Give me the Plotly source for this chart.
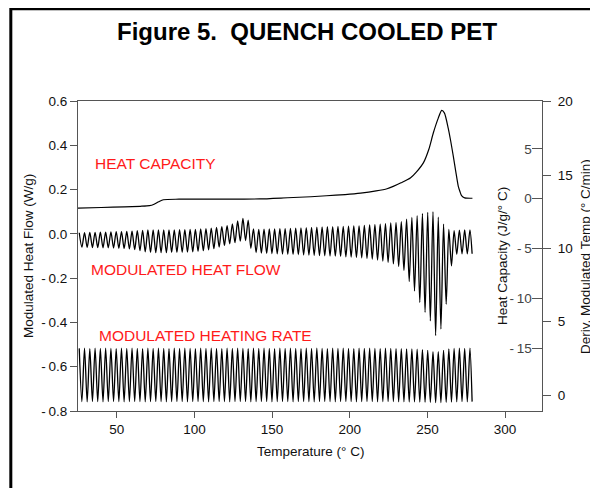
import plotly.graph_objects as go

# ---------------- data ----------------
# Heat capacity curve (J/g/°C axis)
HC_T = [25, 40, 55, 65, 71, 74, 77, 80, 90, 110, 130, 142, 160, 175, 185, 197, 207, 217,
        224, 228, 233, 239, 243, 247.4, 251, 253.8, 257, 259.2, 261, 263.4, 265, 266.7,
        268.3, 269.9, 271, 272, 274, 279]
HC_V = [-0.94, -0.88, -0.82, -0.76, -0.7, -0.55, -0.3, -0.1, -0.05, -0.03, -0.03, -0.02,
        0.1, 0.2, 0.3, 0.42, 0.56, 0.78, 1.0, 1.24, 1.6, 2.08, 2.7, 3.6, 5.0, 6.6, 8.1, 8.87,
        8.6, 7.1, 5.8, 4.25, 2.7, 1.24, 0.7, 0.3, 0.08, 0.05]

# Modulation cycles: temperatures of the crests and troughs
MOD_PEAK_T = [25.8, 29.2, 32.6, 36.0, 39.4, 42.8, 46.2, 49.6, 53.0, 56.4, 59.8, 63.2, 66.6,
              70.0, 73.4, 76.8, 80.2, 83.6, 87.0, 90.4, 93.8, 97.2, 100.6, 104.0, 107.4,
              110.8, 114.2, 117.6, 121.0, 124.4, 127.8, 131.2, 134.6, 138.0, 141.4, 144.8,
              148.2, 151.6, 155.0, 158.4, 161.8, 165.2, 168.6, 172.0, 175.4, 178.8, 182.2,
              185.6, 189.0, 192.4, 195.8, 199.2, 202.6, 206.0, 209.4, 212.8, 216.2, 219.6,
              223.0, 226.4, 229.8, 233.2, 236.6, 240.0, 243.4, 246.8, 250.2, 253.6, 257.0,
              260.4, 263.8, 267.2, 270.6, 274.0, 277.4]
MOD_TROUGH_T = [27.5, 30.9, 34.3, 37.7, 41.1, 44.5, 47.9, 51.3, 54.7, 58.1, 61.5, 64.9, 68.3,
                71.7, 75.1, 78.5, 81.9, 85.3, 88.7, 92.1, 95.5, 98.9, 102.3, 105.7, 109.1,
                112.5, 115.9, 119.3, 122.7, 126.1, 129.5, 132.9, 136.3, 139.7, 143.1, 146.5,
                149.9, 153.3, 156.7, 160.1, 163.5, 166.9, 170.3, 173.7, 177.1, 180.5, 183.9,
                187.3, 190.7, 194.1, 197.5, 200.9, 204.3, 207.7, 211.1, 214.5, 217.9, 221.3,
                224.7, 228.1, 231.5, 234.9, 238.3, 241.7, 245.1, 248.5, 251.9, 255.3, 258.7,
                262.1, 265.5, 268.9, 272.3, 275.7, 278.8]

# Modulated heat flow (W/g): crest and trough values per cycle
HF_PEAK = [0.005, 0.006, 0.007, 0.007, 0.008, 0.008, 0.009, 0.010, 0.010, 0.011, 0.012, 0.014,
           0.016, 0.018, 0.018, 0.018, 0.018, 0.018, 0.018, 0.019, 0.019, 0.020, 0.020, 0.022,
           0.024, 0.026, 0.029, 0.033, 0.037, 0.045, 0.058, 0.070, 0.062, 0.022, 0.020, 0.021,
           0.022, 0.022, 0.023, 0.024, 0.025, 0.026, 0.027, 0.028, 0.029, 0.030, 0.031, 0.032,
           0.033, 0.034, 0.034, 0.035, 0.036, 0.036, 0.038, 0.040, 0.042, 0.044, 0.046, 0.049,
           0.051, 0.055, 0.066, 0.074, 0.082, 0.092, 0.097, 0.100, 0.075, 0.044, 0.020, 0.015,
           0.017, 0.018, 0.018]
HF_TROUGH = [-0.060, -0.061, -0.062, -0.062, -0.063, -0.063, -0.064, -0.065, -0.066, -0.068,
             -0.071, -0.076, -0.081, -0.084, -0.085, -0.085, -0.085, -0.084, -0.084, -0.083,
             -0.082, -0.081, -0.079, -0.076, -0.072, -0.067, -0.060, -0.052, -0.045, -0.040,
             -0.033, -0.030, -0.065, -0.085, -0.087, -0.088, -0.089, -0.090, -0.091, -0.092,
             -0.093, -0.094, -0.095, -0.096, -0.097, -0.098, -0.099, -0.100, -0.101, -0.102,
             -0.104, -0.105, -0.106, -0.108, -0.111, -0.114, -0.118, -0.123, -0.129, -0.136,
             -0.148, -0.165, -0.215, -0.258, -0.310, -0.355, -0.393, -0.460, -0.430, -0.318,
             -0.145, -0.092, -0.090, -0.090, -0.090]

# Modulated heating rate (°C/min): crest and trough values per cycle
HR_PEAK = [3.18, 3.20, 3.17, 3.19, 3.18, 3.20, 3.18, 3.17, 3.19, 3.18, 3.20, 3.18, 3.17, 3.19,
           3.18, 3.20, 3.18, 3.17, 3.19, 3.18, 3.20, 3.18, 3.17, 3.19, 3.18, 3.20, 3.18, 3.17,
           3.19, 3.18, 3.20, 3.18, 3.17, 3.19, 3.18, 3.20, 3.18, 3.17, 3.19, 3.18, 3.20, 3.18,
           3.17, 3.19, 3.18, 3.20, 3.18, 3.17, 3.19, 3.18, 3.20, 3.18, 3.17, 3.19, 3.18, 3.20,
           3.18, 3.17, 3.19, 3.18, 3.17, 3.16, 3.15, 3.14, 3.12, 3.10, 3.05, 2.95, 2.95, 3.05,
           3.15, 3.18, 3.19, 3.18, 3.20]
HR_TROUGH = [-0.45, -0.46, -0.44, -0.45, -0.46, -0.45, -0.44, -0.45, -0.46, -0.45, -0.44, -0.45,
             -0.46, -0.45, -0.44, -0.45, -0.46, -0.45, -0.44, -0.45, -0.46, -0.45, -0.44, -0.45,
             -0.46, -0.45, -0.44, -0.45, -0.46, -0.45, -0.44, -0.45, -0.46, -0.45, -0.44, -0.45,
             -0.46, -0.45, -0.44, -0.45, -0.46, -0.45, -0.44, -0.45, -0.46, -0.45, -0.44, -0.45,
             -0.46, -0.45, -0.44, -0.45, -0.46, -0.45, -0.44, -0.45, -0.46, -0.45, -0.44, -0.45,
             -0.46, -0.46, -0.47, -0.47, -0.48, -0.49, -0.50, -0.52, -0.51, -0.50, -0.48, -0.46,
             -0.45, -0.46, -0.45]

X_TICKS = [50, 100, 150, 200, 250, 300]
Y_TICKS = [-0.8, -0.6, -0.4, -0.2, 0.0, 0.2, 0.4, 0.6]
Y_TICKTEXT = ["-\u20090.8", "-\u20090.6", "-\u20090.4", "-\u20090.2", "0.0", "0.2", "0.4", "0.6"]
HC_TICKS = [-15, -10, -5, 0, 5]
HC_TICKTEXT = ["-\u200915", "-\u200910", "-\u20095", "0", "5"]
DR_TICKS = [0, 5, 10, 15, 20]


def interleave(a_t, a_v, b_t, b_v):
    xs, ys = [], []
    for i in range(len(a_t)):
        xs += [a_t[i], b_t[i]]
        ys += [a_v[i], b_v[i]]
    return xs, ys


hf_x, hf_y = interleave(MOD_PEAK_T, HF_PEAK, MOD_TROUGH_T, HF_TROUGH)
hr_x, hr_y = interleave(MOD_PEAK_T, HR_PEAK, MOD_TROUGH_T, HR_TROUGH)

FONT = "Arial, 'Liberation Sans', Helvetica, sans-serif"
AX = "#555555"

fig = go.Figure()
fig.add_trace(go.Scatter(x=hf_x, y=hf_y, mode="lines", yaxis="y",
                         line=dict(color="#000000", width=1.3, shape="spline", smoothing=0.8)))
fig.add_trace(go.Scatter(x=hr_x, y=hr_y, mode="lines", yaxis="y3",
                         line=dict(color="#000000", width=1.3, shape="spline", smoothing=0.8)))
fig.add_trace(go.Scatter(x=HC_T, y=HC_V, mode="lines", yaxis="y2",
                         line=dict(color="#000000", width=1.2, shape="spline", smoothing=0.6)))

# The page body has an 8 px default margin, so the figure is 8 px smaller
fig.update_layout(
    width=590, height=480,
    margin=dict(l=70, r=56, t=93, b=77, autoexpand=False),
    paper_bgcolor="white", plot_bgcolor="white",
    showlegend=False,
    font=dict(family=FONT, size=13.5, color="#111111"),
    xaxis=dict(range=[25, 323.8], tickvals=X_TICKS, ticks="outside", ticklen=6,
               tickcolor=AX, showline=True, linecolor=AX, linewidth=1, mirror=True,
               showgrid=False, zeroline=False, tickfont=dict(size=13.5), automargin=False),
    yaxis=dict(range=[-0.8, 0.6], tickvals=Y_TICKS, ticktext=Y_TICKTEXT, ticks="outside",
               ticklen=7, tickcolor=AX, showline=True, linecolor=AX, linewidth=1,
               mirror=True, showgrid=False, zeroline=False, tickfont=dict(size=13.5),
               automargin=False),
    yaxis2=dict(range=[-21.33, 9.82], overlaying="y", side="right", anchor="x",
                tickvals=HC_TICKS, ticktext=HC_TICKTEXT, ticks="inside", ticklen=10,
                tickcolor=AX, ticklabelposition="inside", showline=False,
                showgrid=False, zeroline=False, tickfont=dict(size=13.5), automargin=False),
    yaxis3=dict(range=[-1.09, 20.05], overlaying="y", side="right", anchor="free",
                position=1.0, tickvals=DR_TICKS, ticks="outside", ticklen=8,
                tickcolor=AX, showline=True, linecolor=AX, linewidth=1,
                showgrid=False, zeroline=False, tickfont=dict(size=13.5),
                ticklabelstandoff=4, automargin=False),
)

ann = [
    dict(text="<b>Figure 5.\u00a0 QUENCH COOLED PET</b>", x=0.4946, y=1.2226,
         font=dict(size=24, color="#000000")),
    dict(text="Modulated Heat Flow (W/g)", x=-0.1078, y=0.5, textangle=-90,
         font=dict(size=13.5, color="#111111")),
    dict(text="Heat Capacity (J/g/° C)", x=0.9138, y=0.5, textangle=-90,
         font=dict(size=13.5, color="#111111")),
    dict(text="Deriv. Modulated Temp (° C/min)", x=1.0925, y=0.5, textangle=-90,
         font=dict(size=13.5, color="#111111")),
    dict(text="Temperature (° C)", x=0.5, y=-0.132, font=dict(size=13.5, color="#111111")),
    dict(text="HEAT CAPACITY", x=0.0323, y=0.797, xanchor="left",
         font=dict(size=15.5, color="#ff1a1a")),
    dict(text="MODULATED HEAT FLOW", x=0.0237, y=0.458, xanchor="left",
         font=dict(size=15.5, color="#ff1a1a")),
    dict(text="MODULATED HEATING RATE", x=0.041, y=0.242, xanchor="left",
         font=dict(size=15.5, color="#ff1a1a")),
]
for a in ann:
    a.setdefault("xanchor", "center")
    a.update(xref="paper", yref="paper", yanchor="middle", showarrow=False)
fig.update_layout(annotations=ann)

# outer figure frame (top and left edges visible)
fig.add_shape(type="rect", xref="paper", yref="paper",
              x0=-0.1448, y0=-0.4, x1=1.3, y1=1.2977,
              line=dict(color="black", width=3), layer="above")

fig.write_html("out.html")
